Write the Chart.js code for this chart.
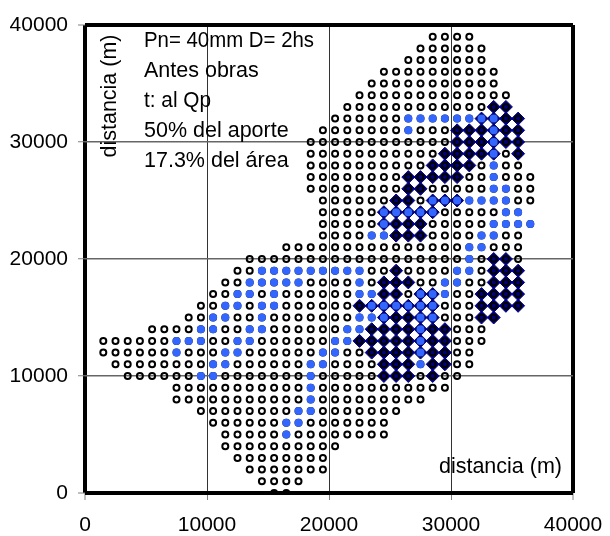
<!DOCTYPE html>
<html>
<head>
<meta charset="utf-8">
<style>
  html, body { margin: 0; padding: 0; background: #fff; }
  canvas { display: block; }
</style>
<script src="https://cdn.jsdelivr.net/npm/chart.js@4"></script>
</head>
<body>
<canvas id="chart" width="610" height="536"></canvas>
<script>
// Axis ticks
const tickValues = [0, 10000, 20000, 30000, 40000];

// Text notes inside the plot
const notes = ['Pn= 40mm D= 2hs', 'Antes obras', 't: al Qp', '50% del aporte', '17.3% del área'];
const yTitle = 'distancia (m)';
const xTitle = 'distancia (m)';

// Row heights of the cell grid (m)
const rowY = [39000, 38000, 37000, 36000, 35000, 34000, 33000, 32000, 31000, 30000,
  29000, 28000, 27000, 26000, 25000, 24000, 23000, 22000, 21000, 20000,
  19000, 18000, 17000, 16000, 15000, 14000, 13000, 12000, 11000, 10000,
  9000, 8000, 7000, 6000, 5000, 4000, 3000, 2000, 1000, 0];

// All cells, x of each cell per row (km, same order as rowY)
const cellX = [
  [28.5, 29.5, 30.5, 31.5],
  [27.5, 28.5, 29.5, 30.5, 31.5, 32.5],
  [26.5, 27.5, 28.5, 29.5, 30.5, 31.5, 32.5],
  [24.5, 25.5, 26.5, 27.5, 28.5, 29.5, 30.5, 31.5, 32.5, 33.5],
  [23.5, 24.5, 25.5, 26.5, 27.5, 28.5, 29.5, 30.5, 31.5, 32.5, 33.5],
  [22.5, 23.5, 24.5, 25.5, 26.5, 27.5, 28.5, 29.5, 30.5, 31.5, 32.5, 33.5, 34.5],
  [21.5, 22.5, 23.5, 24.5, 25.5, 26.5, 27.5, 28.5, 29.5, 30.5, 31.5, 32.5, 33.5, 34.5],
  [20.5, 21.5, 22.5, 23.5, 24.5, 25.5, 26.5, 27.5, 28.5, 29.5, 30.5, 31.5, 32.5, 33.5, 34.5, 35.5],
  [19.5, 20.5, 21.5, 22.5, 23.5, 24.5, 25.5, 26.5, 27.5, 28.5, 29.5, 30.5, 31.5, 32.5, 33.5, 34.5, 35.5],
  [18.5, 19.5, 20.5, 21.5, 22.5, 23.5, 24.5, 25.5, 26.5, 27.5, 28.5, 29.5, 30.5, 31.5, 32.5, 33.5, 34.5, 35.5],
  [18.5, 19.5, 20.5, 21.5, 22.5, 23.5, 24.5, 25.5, 26.5, 27.5, 28.5, 29.5, 30.5, 31.5, 32.5, 33.5, 34.5, 35.5],
  [18.5, 19.5, 20.5, 21.5, 22.5, 23.5, 24.5, 25.5, 26.5, 27.5, 28.5, 29.5, 30.5, 31.5, 32.5, 33.5, 34.5, 35.5],
  [18.5, 19.5, 20.5, 21.5, 22.5, 23.5, 24.5, 25.5, 26.5, 27.5, 28.5, 29.5, 30.5, 31.5, 32.5, 33.5, 34.5, 35.5, 36.5],
  [18.5, 19.5, 20.5, 21.5, 22.5, 23.5, 24.5, 25.5, 26.5, 27.5, 28.5, 29.5, 30.5, 31.5, 32.5, 33.5, 34.5, 35.5, 36.5],
  [19.5, 20.5, 21.5, 22.5, 23.5, 24.5, 25.5, 26.5, 27.5, 28.5, 29.5, 30.5, 31.5, 32.5, 33.5, 34.5, 35.5, 36.5],
  [19.5, 20.5, 21.5, 22.5, 23.5, 24.5, 25.5, 26.5, 27.5, 28.5, 29.5, 30.5, 31.5, 32.5, 33.5, 34.5, 35.5],
  [19.5, 20.5, 21.5, 22.5, 23.5, 24.5, 25.5, 26.5, 27.5, 28.5, 29.5, 30.5, 31.5, 32.5, 33.5, 34.5, 35.5, 36.5],
  [19.5, 20.5, 21.5, 22.5, 23.5, 24.5, 25.5, 26.5, 27.5, 28.5, 29.5, 30.5, 31.5, 32.5, 33.5, 34.5, 35.5],
  [16.5, 17.5, 18.5, 19.5, 20.5, 21.5, 22.5, 23.5, 24.5, 25.5, 26.5, 27.5, 28.5, 29.5, 30.5, 31.5, 32.5, 33.5, 34.5, 35.5],
  [13.5, 14.5, 15.5, 16.5, 17.5, 18.5, 19.5, 20.5, 21.5, 22.5, 23.5, 24.5, 25.5, 26.5, 27.5, 28.5, 29.5, 30.5, 31.5, 32.5, 33.5, 34.5, 35.5],
  [12.5, 13.5, 14.5, 15.5, 16.5, 17.5, 18.5, 19.5, 20.5, 21.5, 22.5, 23.5, 24.5, 25.5, 26.5, 27.5, 28.5, 29.5, 30.5, 31.5, 32.5, 33.5, 34.5, 35.5],
  [11.5, 12.5, 13.5, 14.5, 15.5, 16.5, 17.5, 18.5, 19.5, 20.5, 21.5, 22.5, 23.5, 24.5, 25.5, 26.5, 27.5, 28.5, 29.5, 30.5, 31.5, 32.5, 33.5, 34.5, 35.5],
  [10.5, 11.5, 12.5, 13.5, 14.5, 15.5, 16.5, 17.5, 18.5, 19.5, 20.5, 21.5, 22.5, 23.5, 24.5, 25.5, 26.5, 27.5, 28.5, 29.5, 30.5, 31.5, 32.5, 33.5, 34.5, 35.5],
  [9.5, 10.5, 11.5, 12.5, 13.5, 14.5, 15.5, 16.5, 17.5, 18.5, 19.5, 20.5, 21.5, 22.5, 23.5, 24.5, 25.5, 26.5, 27.5, 28.5, 29.5, 30.5, 31.5, 32.5, 33.5, 34.5, 35.5],
  [8.5, 9.5, 10.5, 11.5, 12.5, 13.5, 14.5, 15.5, 16.5, 17.5, 18.5, 19.5, 20.5, 21.5, 22.5, 23.5, 24.5, 25.5, 26.5, 27.5, 28.5, 29.5, 30.5, 31.5, 32.5, 33.5],
  [5.5, 6.5, 7.5, 8.5, 9.5, 10.5, 11.5, 12.5, 13.5, 14.5, 15.5, 16.5, 17.5, 18.5, 19.5, 20.5, 21.5, 22.5, 23.5, 24.5, 25.5, 26.5, 27.5, 28.5, 29.5, 30.5, 31.5, 32.5],
  [1.5, 2.5, 3.5, 4.5, 5.5, 6.5, 7.5, 8.5, 9.5, 10.5, 11.5, 12.5, 13.5, 14.5, 15.5, 16.5, 17.5, 18.5, 19.5, 20.5, 21.5, 22.5, 23.5, 24.5, 25.5, 26.5, 27.5, 28.5, 29.5, 30.5, 31.5, 32.5],
  [1.5, 2.5, 3.5, 4.5, 5.5, 6.5, 7.5, 8.5, 9.5, 10.5, 11.5, 12.5, 13.5, 14.5, 15.5, 16.5, 17.5, 18.5, 19.5, 20.5, 21.5, 22.5, 23.5, 24.5, 25.5, 26.5, 27.5, 28.5, 29.5, 30.5, 31.5],
  [2.5, 3.5, 4.5, 5.5, 6.5, 7.5, 8.5, 9.5, 10.5, 11.5, 12.5, 13.5, 14.5, 15.5, 16.5, 17.5, 18.5, 19.5, 20.5, 21.5, 22.5, 23.5, 24.5, 25.5, 26.5, 27.5, 28.5, 29.5, 30.5, 31.5],
  [3.5, 4.5, 5.5, 6.5, 7.5, 8.5, 9.5, 10.5, 11.5, 12.5, 13.5, 14.5, 15.5, 16.5, 17.5, 18.5, 19.5, 20.5, 21.5, 22.5, 23.5, 24.5, 25.5, 26.5, 27.5, 28.5, 29.5, 30.5],
  [7.5, 8.5, 9.5, 10.5, 11.5, 12.5, 13.5, 14.5, 15.5, 16.5, 17.5, 18.5, 19.5, 20.5, 21.5, 22.5, 23.5, 24.5, 25.5, 26.5, 27.5, 28.5, 29.5],
  [7.5, 8.5, 9.5, 10.5, 11.5, 12.5, 13.5, 14.5, 15.5, 16.5, 17.5, 18.5, 19.5, 20.5, 21.5, 22.5, 23.5, 24.5, 25.5, 26.5, 27.5],
  [9.5, 10.5, 11.5, 12.5, 13.5, 14.5, 15.5, 16.5, 17.5, 18.5, 19.5, 20.5, 21.5, 22.5, 23.5, 24.5, 25.5],
  [10.5, 11.5, 12.5, 13.5, 14.5, 15.5, 16.5, 17.5, 18.5, 19.5, 20.5, 21.5, 22.5, 23.5, 24.5],
  [11.5, 12.5, 13.5, 14.5, 15.5, 16.5, 17.5, 18.5, 19.5, 20.5, 21.5, 22.5, 23.5, 24.5],
  [11.5, 12.5, 13.5, 14.5, 15.5, 16.5, 17.5, 18.5, 19.5, 20.5],
  [12.5, 13.5, 14.5, 15.5, 16.5, 17.5, 18.5, 19.5],
  [13.5, 14.5, 15.5, 16.5, 17.5, 18.5, 19.5],
  [14.5, 15.5, 16.5, 17.5],
  [15.5, 16.5]
];

// Cells that give the 50% of the inflow (km, same order as rowY)
const aporteX = [
  [], [], [], [], [], [], [],
  [26.5, 27.5, 28.5, 29.5, 30.5, 31.5, 32.5, 33.5],
  [26.5, 33.5],
  [33.5],
  [33.5],
  [33.5],
  [33.5],
  [33.5, 34.5],
  [28.5, 29.5, 30.5, 31.5, 32.5, 33.5, 34.5],
  [24.5, 25.5, 26.5, 27.5, 28.5, 34.5, 35.5],
  [24.5, 33.5, 34.5, 35.5, 36.5],
  [23.5, 24.5, 32.5, 33.5],
  [31.5, 32.5],
  [31.5],
  [14.5, 15.5, 16.5, 17.5, 18.5, 19.5, 20.5, 21.5, 22.5, 30.5, 31.5],
  [13.5, 14.5, 15.5, 16.5, 17.5, 22.5, 29.5, 30.5],
  [12.5, 13.5, 15.5, 22.5, 23.5, 27.5, 28.5, 29.5],
  [11.5, 12.5, 14.5, 15.5, 23.5, 24.5, 25.5, 26.5, 27.5, 28.5],
  [10.5, 11.5, 14.5, 22.5, 23.5, 24.5, 27.5, 28.5],
  [9.5, 10.5, 13.5, 14.5, 21.5, 22.5, 27.5],
  [7.5, 8.5, 9.5, 12.5, 13.5, 20.5, 21.5, 27.5],
  [7.5, 11.5, 12.5, 19.5, 20.5, 27.5],
  [10.5, 11.5, 18.5, 19.5, 27.5],
  [9.5, 10.5, 18.5],
  [18.5],
  [18.5],
  [17.5, 18.5],
  [16.5, 17.5],
  [16.5],
  [], [], [], [], []
];

// Cells of the 17.3% of the area (km, same order as rowY)
const areaX = [
  [], [], [], [], [], [],
  [33.5, 34.5],
  [32.5, 33.5, 34.5, 35.5],
  [30.5, 31.5, 32.5, 33.5, 34.5, 35.5],
  [30.5, 31.5, 32.5, 33.5, 34.5, 35.5],
  [29.5, 30.5, 31.5, 32.5, 33.5, 35.5],
  [28.5, 29.5, 30.5, 31.5],
  [26.5, 27.5, 28.5, 29.5, 30.5],
  [26.5, 27.5],
  [25.5, 26.5, 28.5, 29.5, 30.5],
  [24.5, 25.5, 26.5, 27.5, 28.5],
  [24.5, 25.5, 26.5, 27.5],
  [25.5, 26.5, 27.5],
  [],
  [33.5, 34.5],
  [25.5, 33.5, 34.5, 35.5],
  [24.5, 25.5, 26.5, 33.5, 34.5, 35.5],
  [24.5, 25.5, 27.5, 28.5, 32.5, 33.5, 34.5, 35.5],
  [22.5, 23.5, 24.5, 25.5, 26.5, 27.5, 28.5, 32.5, 33.5, 34.5, 35.5],
  [24.5, 25.5, 26.5, 27.5, 28.5, 32.5, 33.5],
  [23.5, 24.5, 25.5, 26.5, 27.5, 28.5, 29.5],
  [22.5, 23.5, 24.5, 25.5, 26.5, 27.5, 28.5, 29.5],
  [23.5, 24.5, 25.5, 26.5, 27.5, 28.5, 29.5],
  [24.5, 25.5, 26.5, 28.5, 29.5],
  [24.5, 25.5, 26.5, 28.5],
  [], [], [], [], [], [], [], [], [], []
];

// km per row -> {x, y} in metres for the scatter datasets
function toPoints(rows) {
  const points = [];
  rows.forEach((xs, i) => {
    xs.forEach(x => points.push({ x: x * 1000, y: rowY[i] }));
  });
  return points;
}

// Frame lines sit on the first and last tick
function isEdge(ctx) {
  return ctx.tick.value === 0 || ctx.tick.value === 40000;
}

// Notes and axis titles written inside the plot
const noteWidths = [170, 118, 67, 145, 145];
const textPlugin = {
  id: 'plotText',
  afterDatasetsDraw(chart) {
    const c = chart.ctx;
    c.save();
    c.fillStyle = '#000';
    c.textBaseline = 'alphabetic';
    c.font = '21.5px "Liberation Sans"';
    c.textAlign = 'left';
    notes.forEach((text, i) => {
      c.fillText(text, 144, 47 + i * 30, noteWidths[i]);
    });
    c.textAlign = 'right';
    c.fillText(xTitle, 562, 473);
    c.translate(116, 96);
    c.rotate(-Math.PI / 2);
    c.textAlign = 'center';
    c.fillText(yTitle, 0, 0);
    c.restore();
  }
};

new Chart(document.getElementById('chart'), {
  type: 'scatter',
  data: {
    datasets: [
      {
        label: 'Área',
        data: toPoints(areaX),
        pointStyle: 'rectRot',
        pointRadius: 6.5,
        backgroundColor: '#000080',
        borderColor: '#000080',
        borderWidth: 1,
        order: 3
      },
      {
        label: 'Celdas',
        data: toPoints(cellX),
        pointStyle: 'circle',
        pointRadius: 3,
        backgroundColor: 'transparent',
        borderColor: '#000',
        borderWidth: 2,
        order: 2
      },
      {
        label: 'Aporte',
        data: toPoints(aporteX),
        pointStyle: 'circle',
        pointRadius: 4,
        backgroundColor: '#3366ff',
        borderColor: '#3366ff',
        borderWidth: 0,
        order: 1
      }
    ]
  },
  options: {
    responsive: false,
    animation: false,
    layout: { padding: { top: 25, right: 37, bottom: 0, left: 0 } },
    plugins: { legend: { display: false }, tooltip: { enabled: false } },
    scales: {
      x: {
        type: 'linear',
        min: 0,
        max: 40000,
        afterBuildTicks: axis => { axis.ticks = tickValues.map(v => ({ value: v })); },
        afterFit: axis => {
          axis.height = 43;
          axis.paddingLeft = 0;
          axis.paddingRight = 0;
        },
        border: { display: false },
        grid: {
          drawTicks: true,
          tickLength: 7,
          tickColor: '#808080',
          tickWidth: 1,
          color: ctx => (isEdge(ctx) ? '#000' : '#333'),
          lineWidth: ctx => (isEdge(ctx) ? 4 : 1)
        },
        ticks: {
          color: '#000',
          maxRotation: 0,
          padding: 13,
          font: { family: '"Liberation Sans"', size: 21 },
          callback: v => String(v)
        }
      },
      y: {
        type: 'linear',
        min: 0,
        max: 40000,
        afterBuildTicks: axis => { axis.ticks = tickValues.map(v => ({ value: v })); },
        afterFit: axis => {
          axis.width = 85;
          axis.paddingTop = 0;
          axis.paddingBottom = 0;
        },
        border: { display: false },
        grid: {
          drawTicks: true,
          tickLength: 7,
          tickColor: '#808080',
          tickWidth: 1,
          color: ctx => (isEdge(ctx) ? '#000' : '#666'),
          lineWidth: ctx => (isEdge(ctx) ? 4 : 1.5)
        },
        ticks: {
          color: '#000',
          padding: 10,
          font: { family: '"Liberation Sans"', size: 21 },
          callback: v => String(v)
        }
      }
    }
  },
  plugins: [textPlugin]
});
</script>
</body>
</html>
